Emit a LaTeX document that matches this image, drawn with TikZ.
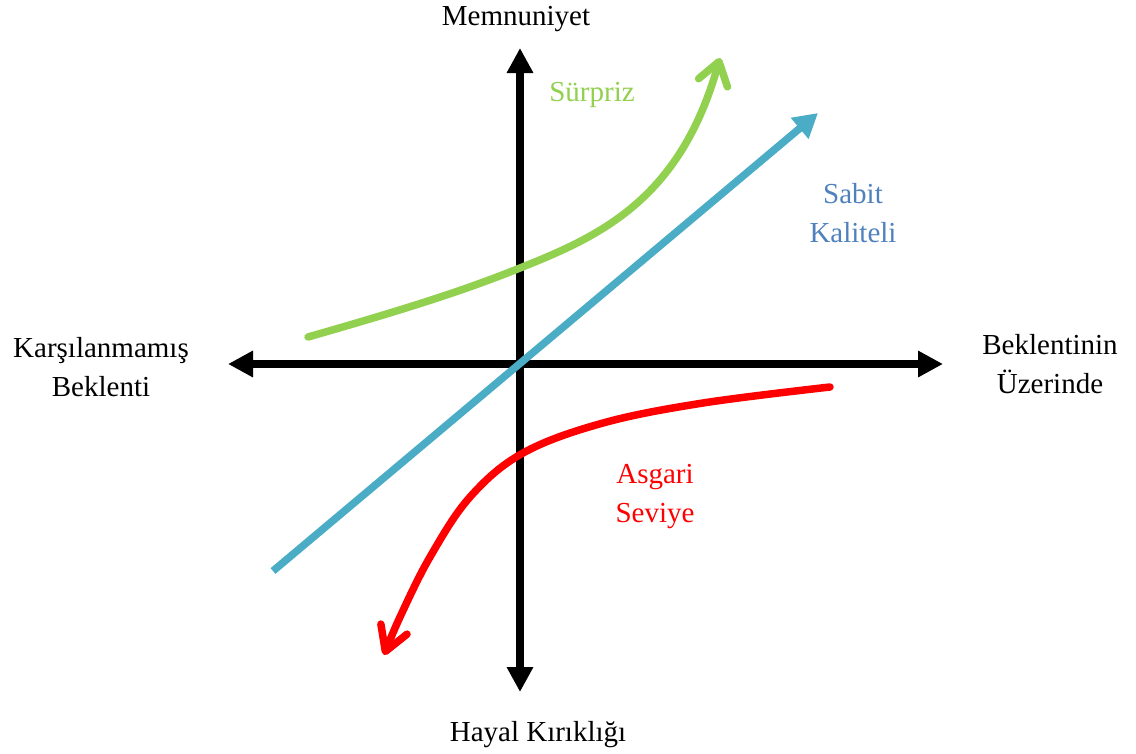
\documentclass[tikz,border=0pt]{standalone}
\usepackage{fontspec}
\setmainfont{Liberation Serif}
\usetikzlibrary{arrows.meta}
\definecolor{cgreen}{RGB}{146,208,80}
\definecolor{cblue}{RGB}{75,172,198}
\definecolor{ctextblue}{RGB}{79,129,189}
\definecolor{cred}{RGB}{255,0,0}
\tikzset{
  axis/.style={line width=7.5pt, draw=black, -{Triangle[length=25pt,width=25pt]}},
  curve/.style={line width=7.5pt, line cap=round, line join=round},
  lbl/.style={font=\fontsize{29}{39}\selectfont, align=center, inner sep=0pt},
}
\begin{document}
\begin{tikzpicture}[x=1pt,y=-1pt]
\useasboundingbox (0,0) rectangle (1136,753);
% axis endpoints
\coordinate (vb) at (520,692);
\coordinate (vt) at (520,48);
\coordinate (hl) at (228,364);
\coordinate (hr) at (943,364);
\coordinate (o) at (520,364);
\draw[axis] (o) -- (vt);
\draw[axis] (o) -- (vb);
\draw[axis] (o) -- (hl);
\draw[axis] (o) -- (hr);
% blue line
\coordinate (bs) at (273,571);
\coordinate (be) at (818,113);
\draw[line width=7.5pt, draw=cblue, -{Triangle[length=24pt,width=26pt]}] (bs) -- (be);
% green curve
\coordinate (gs) at (308,337);
\coordinate (gm) at (520,268);
\coordinate (ge) at (720,58);
\draw[curve, draw=cgreen, -{Straight Barb[length=22pt,width=30pt,line cap=round,line join=round]}]
  (gs) .. controls (420,305) and (470,288) .. (gm) .. controls (600,236) and (680,200) .. (ge);
% red curve
\draw[curve, draw=cred, -{Straight Barb[length=24pt,width=28pt,line cap=round,line join=round]}]
  plot[smooth, tension=0.6] coordinates {(830,387) (703,403) (603,423) (523,453) (470,497) (430,557) (400,617) (384,655)};
% labels
\node[lbl] (tmem) at (516,19) {Memnuniyet};
\node[lbl, text=cgreen] (tsur) at (592,95) {Sürpriz};
\node[lbl, text=ctextblue] (tsab) at (853,213) {Sabit\\Kaliteli};
\node[lbl] (tkar) at (101,367) {Karşılanmamış\\Beklenti};
\node[lbl] (tbek) at (1050,364) {Beklentinin\\Üzerinde};
\node[lbl, text=cred] (tasg) at (655,497) {Asgari\\Seviye};
\node[lbl] (thay) at (538,735) {Hayal Kırıklığı};
\end{tikzpicture}
\end{document}
